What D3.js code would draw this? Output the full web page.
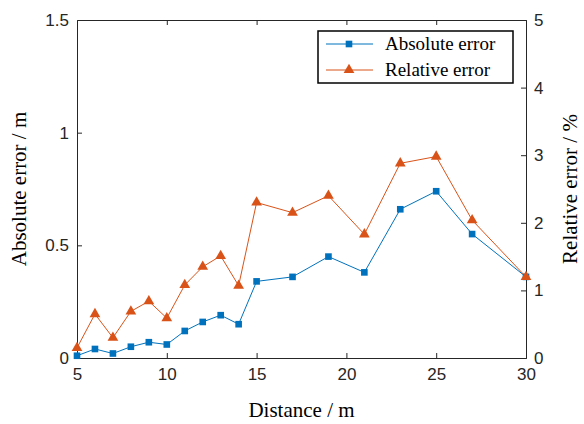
<!DOCTYPE html>
<html><head><meta charset="utf-8">
<script src="https://cdn.jsdelivr.net/npm/d3@7"></script>
<style>body{margin:0;background:#fff}
svg text.ser{font-family:"Liberation Serif" !important}
svg text.san{font-family:"Liberation Sans" !important}
</style>
</head><body><div id="chart"></div>
<script>
const distance = [5,6,7,8,9,10,11,12,13,14,15,17,19,21,23,25,27,30];
const absoluteError = [0.01,0.04,0.02,0.05,0.07,0.06,0.12,0.16,0.19,0.15,0.34,0.36,0.45,0.38,0.66,0.74,0.55,0.36];
const relativeError = [0.15,0.65,0.3,0.69,0.84,0.59,1.08,1.35,1.51,1.07,2.3,2.15,2.4,1.83,2.88,2.98,2.04,1.2];
const xTicks = [5,10,15,20,25,30];
const leftTicks = [0,0.5,1,1.5];
const leftTickLabels = ["0","0.5","1","1.5"];
const rightTicks = [0,1,2,3,4,5];
const seriesNames = ["Absolute error","Relative error"];

const W=584,H=424;
const m={l:77,r:58,t:20,b:66};
const svg=d3.select("#chart").append("svg").attr("width",W).attr("height",H);
const x=d3.scaleLinear().domain([5,30]).range([m.l,W-m.r]);
const yL=d3.scaleLinear().domain([0,1.5]).range([H-m.b,m.t]);
const yR=d3.scaleLinear().domain([0,5]).range([H-m.b,m.t]);
const blue="#0072BD",orange="#D95319",axc="#262626";

// axes
const gB=svg.append("g").attr("transform",`translate(0,${H-m.b})`)
 .call(d3.axisBottom(x).tickValues(xTicks).tickSize(-5).tickPadding(10).tickFormat(d3.format("d")));
const gT=svg.append("g").attr("transform",`translate(0,${m.t})`)
 .call(d3.axisTop(x).tickValues(xTicks).tickSize(-5).tickFormat(""));
const gL=svg.append("g").attr("transform",`translate(${m.l},0)`)
 .call(d3.axisLeft(yL).tickValues(leftTicks).tickSize(-5).tickPadding(8).tickFormat((d,i)=>leftTickLabels[i]));
const gR=svg.append("g").attr("transform",`translate(${W-m.r},0)`)
 .call(d3.axisRight(yR).tickValues(rightTicks).tickSize(-5).tickPadding(8).tickFormat(d3.format("d")));
[gB,gT,gL,gR].forEach(g=>{
  g.attr("font-family","Liberation Sans").attr("font-size",17);
  g.selectAll(".domain").attr("stroke",axc).attr("stroke-width",1);
  g.selectAll(".tick line").attr("stroke",axc);
  g.selectAll("text").attr("class","san").attr("fill","#262626");
});
gB.selectAll(".tick").filter(d=>d===5||d===30).select("line").remove();
gT.selectAll(".tick").filter(d=>d===5||d===30).select("line").remove();
gL.selectAll(".tick").filter(d=>d===0||d===1.5).select("line").remove();
gR.selectAll(".tick").filter(d=>d===0||d===5).select("line").remove();

// lines
const lineA=d3.line().x((d,i)=>x(distance[i])).y(d=>yL(d));
const lineR=d3.line().x((d,i)=>x(distance[i])).y(d=>yR(d));
svg.append("path").datum(absoluteError).attr("d",lineA).attr("fill","none").attr("stroke",blue).attr("stroke-width",1);
svg.append("path").datum(relativeError).attr("d",lineR).attr("fill","none").attr("stroke",orange).attr("stroke-width",1);
const sq=d3.symbol().type(d3.symbolSquare).size(44);
const tri=d3.symbol().type(d3.symbolTriangle).size(50);
svg.append("g").selectAll("path").data(absoluteError).join("path")
 .attr("d",sq).attr("transform",(d,i)=>`translate(${x(distance[i])},${yL(d)})`).attr("fill",blue);
svg.append("g").selectAll("path").data(relativeError).join("path")
 .attr("d",tri).attr("transform",(d,i)=>`translate(${x(distance[i])},${yR(d)})`).attr("fill",orange);

// axis labels
function serifText(){
  return svg.append("text").attr("class","ser").attr("font-family","Liberation Serif").style("font-family","Liberation Serif").attr("fill","#000");
}
serifText().attr("x",(m.l+W-m.r)/2).attr("y",417).attr("text-anchor","middle").attr("font-size",21).text("Distance / m");
serifText().attr("transform",`translate(26,${(m.t+H-m.b)/2}) rotate(-90)`).attr("text-anchor","middle").attr("font-size",21).text("Absolute error / m");
serifText().attr("transform",`translate(577,${(m.t+H-m.b)/2}) rotate(-90)`).attr("text-anchor","middle").attr("font-size",21).text("Relative error / %");

// legend
const lg=svg.append("g").attr("transform","translate(318,31)");
lg.append("rect").attr("width",195).attr("height",52).attr("fill","#fff").attr("stroke","#000").attr("stroke-width",1.5);
const cols=[blue,orange],syms=[sq,tri];
seriesNames.forEach((n,i)=>{
  const yy=13+i*26;
  lg.append("line").attr("x1",8).attr("x2",55).attr("y1",yy).attr("y2",yy).attr("stroke",cols[i]);
  lg.append("path").attr("d",syms[i]).attr("transform",`translate(31,${yy})`).attr("fill",cols[i]);
  lg.append("text").attr("class","ser").attr("font-family","Liberation Serif").style("font-family","Liberation Serif")
    .attr("x",67).attr("y",yy+6).attr("font-size",19).attr("fill","#000").text(n);
});
</script></body></html>
